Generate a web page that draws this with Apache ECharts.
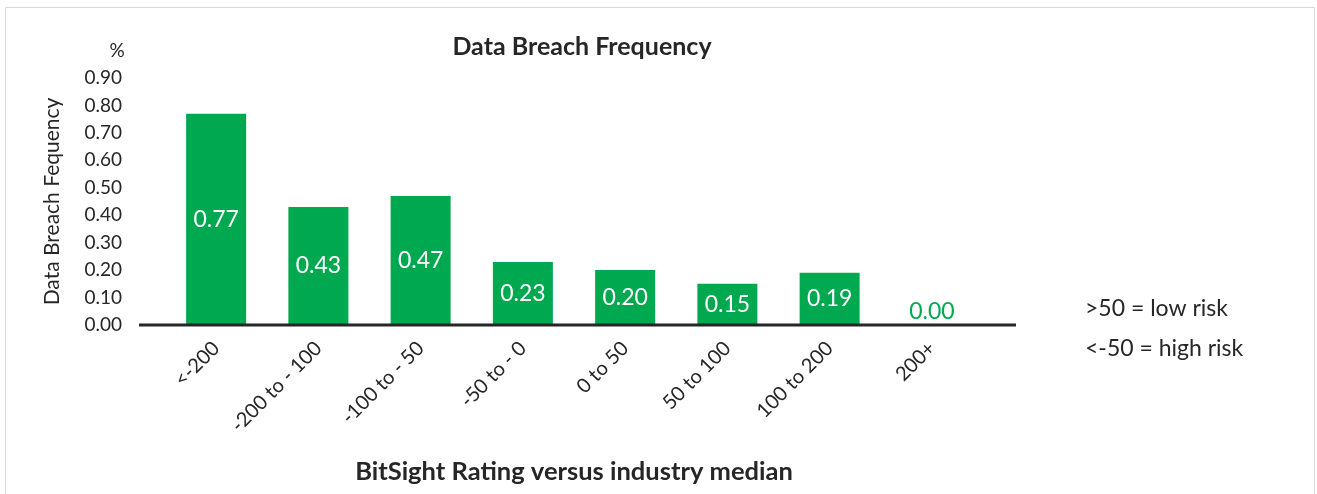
<!DOCTYPE html>
<html><head><meta charset="utf-8">
<script src="https://cdn.jsdelivr.net/npm/echarts@6/dist/echarts.min.js"></script>
<style>html,body{margin:0;padding:0;background:#fff}#c{width:1317px;height:494px}</style>
</head><body><div id="c"></div>
<script>
const categories = ['<-200', '-200 to - 100', '-100 to - 50', '-50 to - 0', '0 to 50', '50 to 100', '100 to 200', '200+'];
const values = [0.77, 0.43, 0.47, 0.23, 0.20, 0.15, 0.19, 0.00];
const yTicks = { min: 0, max: 0.9, interval: 0.1 };
const titleText = 'Data Breach Frequency';
const xTitle = 'BitSight Rating versus industry median';
const yTitle = 'Data Breach Fequency';
const unitText = '%';
const notes = ['>50 = low risk', '<-50 = high risk'];

const GREEN = '#00A94F';
const TXT = '#262626';
const FONT = 'Lato, "Noto Sans", sans-serif';

const chart = echarts.init(document.getElementById('c'));
chart.setOption({
  animation: false,
  textStyle: { fontFamily: FONT },
  title: {
    text: titleText, left: 577, top: 29, textAlign: 'center',
    textStyle: { fontSize: 25, fontWeight: 'bold', color: TXT, fontFamily: FONT }
  },
  grid: { left: 165, right: 334, top: 78, bottom: 169 },
  xAxis: {
    type: 'category', data: categories,
    axisLine: { show: false }, axisTick: { show: false },
    axisLabel: { rotate: 45, margin: 20, fontSize: 20, color: TXT, fontFamily: FONT, interval: 0 },
    name: xTitle, nameLocation: 'middle', nameGap: 134,
    nameTextStyle: { fontSize: 25.5, fontWeight: 'bold', color: TXT, fontFamily: FONT }
  },
  yAxis: {
    type: 'value', min: yTicks.min, max: yTicks.max, interval: yTicks.interval,
    splitLine: { show: false }, axisLine: { show: false }, axisTick: { show: false },
    axisLabel: { margin: 43, fontSize: 19, color: TXT, fontFamily: FONT, formatter: v => v.toFixed(2) },
    name: yTitle, nameLocation: 'middle', nameRotate: 90, nameGap: 102,
    nameTextStyle: { fontSize: 21, color: TXT, fontFamily: FONT }
  },
  series: [{
    type: 'bar', barWidth: 60,
    itemStyle: { color: GREEN },
    data: values.map(v => v === 0 ? {
      value: v,
      label: { position: 'top', color: GREEN, distance: 2 }
    } : v),
    label: {
      show: true, position: 'inside', color: '#fff', fontSize: 23, fontFamily: FONT,
      formatter: p => Number(p.value).toFixed(2)
    }
  }],
  graphic: [
    { type: 'rect', shape: { x: 5.5, y: 7.5, width: 1309, height: 500 }, style: { fill: 'none', stroke: '#d9d9d9', lineWidth: 1 }, silent: true },
    { type: 'line', shape: { x1: 139, y1: 325, x2: 1016, y2: 325 }, style: { stroke: TXT, lineWidth: 3 }, z: 10 },
    { type: 'text', x: 117, y: 51, style: { text: unitText, fontSize: 19, fill: TXT, fontFamily: FONT, align: 'center', verticalAlign: 'middle' } },
    { type: 'text', x: 1085, y: 309, style: { text: notes[0], fontSize: 23, fill: TXT, fontFamily: FONT, align: 'left', verticalAlign: 'middle' } },
    { type: 'text', x: 1085, y: 349, style: { text: notes[1], fontSize: 23, fill: TXT, fontFamily: FONT, align: 'left', verticalAlign: 'middle' } }
  ]
});
</script></body></html>
